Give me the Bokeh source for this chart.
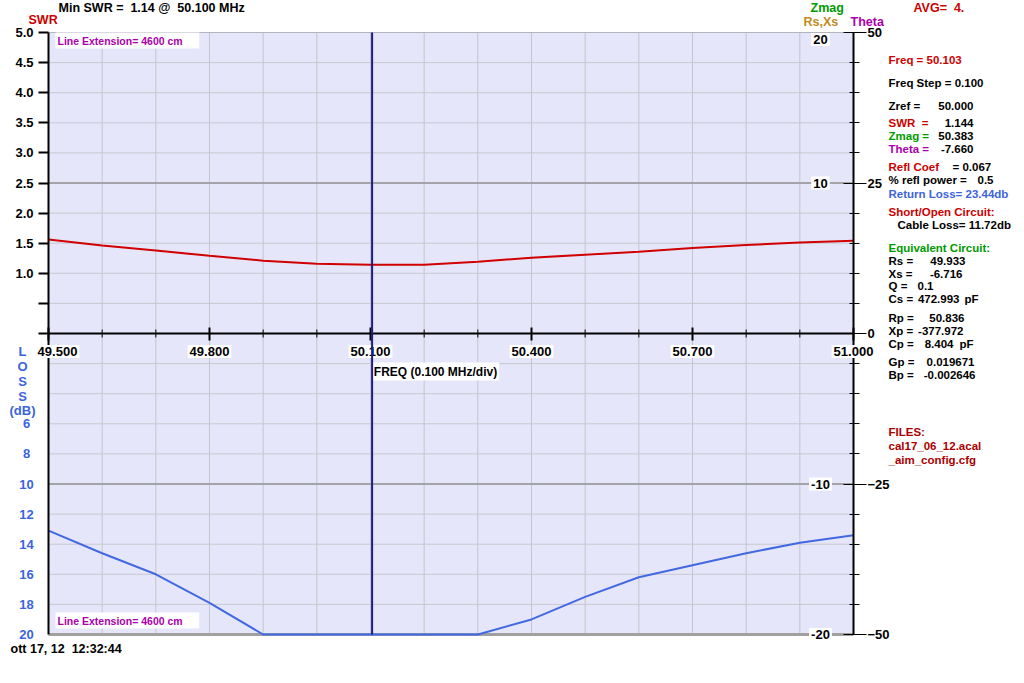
from bokeh.plotting import figure
from bokeh.models import Range1d, LinearAxis, FixedTicker, Label
from bokeh.embed import file_html
from bokeh.resources import INLINE

# ---------------- data ----------------
freq = [49.5, 49.6, 49.7, 49.8, 49.9, 50.0, 50.1, 50.2, 50.3, 50.4, 50.5, 50.6, 50.7, 50.8, 50.9, 51.0]
swr = [1.56, 1.46, 1.38, 1.29, 1.21, 1.16, 1.14, 1.14, 1.19, 1.26, 1.31, 1.36, 1.42, 1.47, 1.51, 1.54]
return_loss = [13.1, 14.6, 16.0, 17.9, 20.0, 20.0, 20.0, 20.0, 20.0, 19.0, 17.5, 16.2, 15.4, 14.6, 13.9, 13.4]
marker_freq = 50.103

freq_label_ticks = [49.5, 49.8, 50.1, 50.4, 50.7, 51.0]
freq_tick_labels = ["49.500", "49.800", "50.100", "50.400", "50.700", "51.000"]
freq_grid = [49.6, 49.7, 49.8, 49.9, 50.0, 50.1, 50.2, 50.3, 50.4, 50.5, 50.6, 50.7, 50.8, 50.9]
swr_ticks = [0.0, 0.5, 1.0, 1.5, 2.0, 2.5, 3.0, 3.5, 4.0, 4.5, 5.0]
swr_tick_labels = ["", "", "1.0", "1.5", "2.0", "2.5", "3.0", "3.5", "4.0", "4.5", "5.0"]
y_grid = [-4.5, -4.0, -3.5, -3.0, -2.0, -1.5, -1.0, -0.5, 0.5, 1.0, 1.5, 2.0, 3.0, 3.5, 4.0, 4.5]
y_grid_major = [-2.5, 2.5]
loss_ticks = [6, 8, 10, 12, 14, 16, 18, 20]
loss_title = ["L", "O", "S", "S", "(dB)"]
rsxs_ticks = [20, 10, -10, -20]
theta_ticks = [50, 25, 0, -25, -50]
theta_minor_ticks = [-50, -45, -40, -35, -30, -25, -20, -15, -10, -5, 0, 5, 10, 15, 20, 25, 30, 35, 40, 45, 50]

# ---------------- styles ----------------
FONT = "Liberation Sans"
RED = "#cc0000"
DKRED = "#aa0000"
GREEN = "#009a00"
ORANGE = "#c08c20"
MAGENTA = "#aa00aa"
BLUE = "#3c64dc"
BLACK = "#000000"

# chart-area geometry in page pixels; the frame covers the whole canvas
FX0, FX1, FY0, FY1 = 48, 853, 32, 634
X_LO, X_HI, Y_LO, Y_HI = 49.5, 51.0, -5.0, 5.0
W, H = 1020, 680
KX = (X_HI - X_LO) / (FX1 - FX0)
KY = (Y_HI - Y_LO) / (FY1 - FY0)
x_range = Range1d(X_LO - FX0 * KX, X_LO + (W - FX0) * KX)
y_range = Range1d(Y_HI - (H - FY0) * KY, Y_HI + FY0 * KY)


def extra(v_lo, v_hi):
    m = (v_hi - v_lo) / (Y_HI - Y_LO)
    return Range1d(v_lo + (y_range.start - Y_LO) * m, v_lo + (y_range.end - Y_LO) * m)


def dx(px):
    return x_range.start + px * KX


def dy(py):
    return y_range.end - py * KY


def nb(s):
    return s.replace(" ", "\u00a0")


p = figure(width=W, height=H, x_range=x_range, y_range=y_range,
           x_axis_location=None, y_axis_location=None,
           toolbar_location=None, output_backend="svg",
           min_border_left=0, min_border_right=0, min_border_top=0, min_border_bottom=0,
           background_fill_color="white", border_fill_color="white", outline_line_color=None)
p.extra_y_ranges = {"loss": extra(20, -20), "rsxs": extra(-20, 20), "theta": extra(-50, 50)}
for g in p.grid:
    g.visible = False

# chart area background and grid
p.quad(left=[X_LO], right=[X_HI], bottom=[Y_LO], top=[Y_HI], fill_color="#e6e6fa", line_color=None)
p.segment(x0=freq_grid, x1=freq_grid, y0=[Y_LO] * len(freq_grid), y1=[Y_HI] * len(freq_grid),
          line_color="#c4c4cc", line_width=1)
p.segment(x0=[X_LO] * len(y_grid), x1=[X_HI] * len(y_grid), y0=y_grid, y1=y_grid,
          line_color="#c8c8d0", line_width=1)
p.segment(x0=[X_LO] * 2, x1=[X_HI] * 2, y0=y_grid_major, y1=y_grid_major,
          line_color="#a4a4a8", line_width=2)
p.segment(x0=[X_LO], x1=[X_HI], y0=[Y_HI], y1=[Y_HI], line_color="#b4b4bc", line_width=1)
p.segment(x0=[X_LO], x1=[X_HI], y0=[Y_LO], y1=[Y_LO], line_color="#a0a0a0", line_width=3)

# curves
p.line(freq, swr, line_color="#d00000", line_width=2)
p.line(freq, return_loss, line_color="#4169e1", line_width=2, y_range_name="loss")

# middle frequency axis
p.segment(x0=[X_LO], x1=[X_HI], y0=[0], y1=[0], line_color="black", line_width=2)
minor_x = [f for f in freq_grid if f not in freq_label_ticks]
p.segment(x0=minor_x, x1=minor_x, y0=[dy(329)] * len(minor_x), y1=[dy(337)] * len(minor_x),
          line_color="black", line_width=1)
p.segment(x0=freq_label_ticks, x1=freq_label_ticks, y0=[dy(327)] * len(freq_label_ticks),
          y1=[dy(340)] * len(freq_label_ticks), line_color="black", line_width=2)

# left SWR axis
left = LinearAxis(fixed_location=X_LO, bounds=(Y_LO, Y_HI),
                  ticker=FixedTicker(ticks=swr_ticks, minor_ticks=[]),
                  major_label_overrides={t: l for t, l in zip(swr_ticks, swr_tick_labels)},
                  axis_line_width=2, axis_line_color="black",
                  major_tick_out=10, major_tick_in=0, major_tick_line_width=2,
                  minor_tick_out=0, minor_tick_in=0,
                  major_label_standoff=5,
                  major_label_text_font=FONT, major_label_text_font_style="bold",
                  major_label_text_font_size="13px", major_label_text_color="black")
p.add_layout(left, "left")

# right Theta axis
right = LinearAxis(y_range_name="theta", fixed_location=X_HI, bounds=(-50, 50),
                   ticker=FixedTicker(ticks=theta_ticks, minor_ticks=theta_minor_ticks),
                   axis_line_width=2, axis_line_color="black",
                   major_tick_out=13, major_tick_in=10, major_tick_line_width=1,
                   minor_tick_out=6, minor_tick_in=4, minor_tick_line_color="black",
                   major_label_standoff=1,
                   major_label_text_font=FONT, major_label_text_font_style="bold",
                   major_label_text_font_size="13px", major_label_text_color="black")
p.add_layout(right, "right")

# frequency labels
label_shift = [9, 0, 0, 0, 0, 0]
for f, t, s in zip(freq_label_ticks, freq_tick_labels, label_shift):
    p.add_layout(Label(x=f, y=dy(351), x_offset=s, text=t, text_align="center", text_baseline="middle",
                       text_font=FONT, text_font_style="bold", text_font_size="13px", text_color="black",
                       background_fill_color="white", padding=2))
p.add_layout(Label(x=dx(435), y=dy(371), text=nb("FREQ (0.100 MHz/div)"), text_align="center",
                   text_baseline="middle", text_font=FONT, text_font_style="bold", text_font_size="12px",
                   text_color="black", background_fill_color="white", padding=2))

# loss axis labels (left, lower half)
for v in loss_ticks:
    p.add_layout(Label(x=X_LO, x_offset=-22, y=v, y_range_name="loss", text=str(v),
                       text_align="center", text_baseline="middle", text_font=FONT,
                       text_font_style="bold", text_font_size="13px", text_color=BLUE))
for t, py in zip(loss_title, [351, 366, 381, 396, 410]):
    p.add_layout(Label(x=dx(22), y=dy(py), text=t, text_align="center", text_baseline="middle",
                       text_font=FONT, text_font_style="bold", text_font_size="13px", text_color=BLUE))

# inner Rs,Xs scale labels
rsxs_shift = [-7, 0, 0, 0]
for v, s in zip(rsxs_ticks, rsxs_shift):
    p.add_layout(Label(x=X_HI, x_offset=-33, y=v, y_offset=s, y_range_name="rsxs", text=str(v),
                       text_align="center", text_baseline="middle", text_font=FONT,
                       text_font_style="bold", text_font_size="13px", text_color="black",
                       background_fill_color="white", padding=2))

# line extension notes
for py in [40, 620]:
    p.add_layout(Label(x=dx(55), y=dy(py), text=nb("Line Extension= 4600 cm") + "\u00a0" * 5,
                       text_align="left", text_baseline="middle", text_font=FONT,
                       text_font_style="bold", text_font_size="10.5px", text_color=MAGENTA,
                       background_fill_color="white", padding=2))

# header / footer texts
header = [
    ("Min SWR =  1.14 @  50.100 MHz", 58, 7, BLACK),
    ("SWR", 28, 19, RED),
    ("Zmag", 810, 7, GREEN),
    ("AVG=  4.", 913, 7, RED),
    ("Rs,Xs", 803, 21, ORANGE),
    ("Theta", 850, 21, MAGENTA),
    ("ott 17, 12  12:32:44", 10, 648, BLACK),
]
for t, px, py, c in header:
    p.add_layout(Label(x=dx(px), y=dy(py), text=nb(t), text_align="left", text_baseline="middle",
                       text_font=FONT, text_font_style="bold", text_font_size="12.5px", text_color=c))

# right readout panel: (text, x, y, color, align)
panel = [
    ("Freq = 50.103", 888, 59, RED, "left"),
    ("Freq Step = 0.100", 888, 82, BLACK, "left"),
    ("Zref =", 888, 105, BLACK, "left"), ("50.000", 973, 105, BLACK, "right"),
    ("SWR  =", 888, 122, RED, "left"), ("1.144", 973, 122, BLACK, "right"),
    ("Zmag =", 888, 135, GREEN, "left"), ("50.383", 973, 135, BLACK, "right"),
    ("Theta =", 888, 148, MAGENTA, "left"), ("-7.660", 973, 148, BLACK, "right"),
    ("Refl Coef", 888, 166, RED, "left"), ("= 0.067", 952, 166, BLACK, "left"),
    ("% refl power =", 888, 179, BLACK, "left"), ("0.5", 993, 179, BLACK, "right"),
    ("Return Loss= 23.44db", 888, 193, BLUE, "left"),
    ("Short/Open Circuit:", 888, 211, RED, "left"),
    ("Cable Loss= 11.72db", 897, 224, BLACK, "left"),
    ("Equivalent Circuit:", 888, 247, GREEN, "left"),
    ("Rs =", 888, 260, BLACK, "left"), ("49.933", 965, 260, BLACK, "right"),
    ("Xs =", 888, 273, BLACK, "left"), ("-6.716", 962, 273, BLACK, "right"),
    ("Q =", 888, 285, BLACK, "left"), ("0.1", 933, 285, BLACK, "right"),
    ("Cs =", 888, 298, BLACK, "left"), ("472.993", 959, 298, BLACK, "right"), ("pF", 964, 298, BLACK, "left"),
    ("Rp =", 888, 317, BLACK, "left"), ("50.836", 964, 317, BLACK, "right"),
    ("Xp =", 888, 330, BLACK, "left"), ("-377.972", 963, 330, BLACK, "right"),
    ("Cp =", 888, 343, BLACK, "left"), ("8.404", 953, 343, BLACK, "right"), ("pF", 959, 343, BLACK, "left"),
    ("Gp =", 888, 361, BLACK, "left"), ("0.019671", 974, 361, BLACK, "right"),
    ("Bp =", 888, 374, BLACK, "left"), ("-0.002646", 975, 374, BLACK, "right"),
    ("FILES:", 888, 431, DKRED, "left"),
    ("cal17_06_12.acal", 888, 445, DKRED, "left"),
    ("_aim_config.cfg", 888, 459, DKRED, "left"),
]
for t, px, py, c, al in panel:
    p.add_layout(Label(x=dx(px), y=dy(py), text=nb(t), text_align=al, text_baseline="middle",
                       text_font=FONT, text_font_style="bold", text_font_size="11.5px", text_color=c))

# marker line, drawn above the labels
mk = p.segment(x0=[marker_freq], x1=[marker_freq], y0=[Y_LO], y1=[Y_HI], line_color="#1c1c84", line_width=2)
mk.level = "overlay"

open("out.html", "w").write(file_html(p, INLINE))
